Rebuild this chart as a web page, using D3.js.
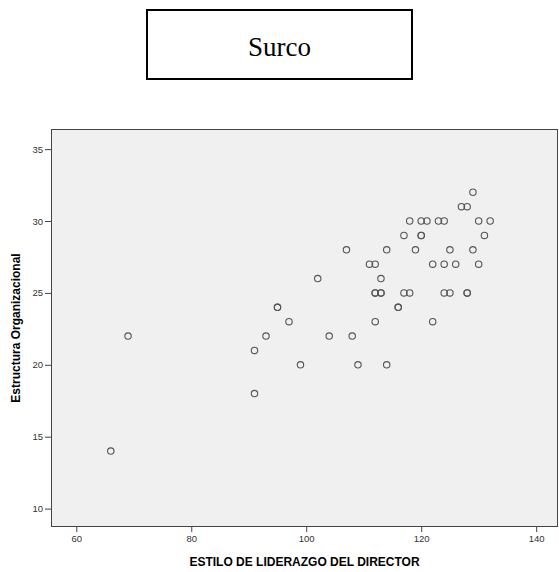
<!DOCTYPE html>
<html>
<head>
<meta charset="utf-8">
<script src="https://cdn.jsdelivr.net/npm/d3@7"></script>
<style>
  html, body { margin: 0; padding: 0; background: #ffffff; }
  svg { display: block; }
</style>
</head>
<body>
<svg id="chart" width="559" height="572"></svg>
<script>
// ---- data ----
const titleText = "Surco";
const xLabel = "ESTILO DE LIDERAZGO DEL DIRECTOR";
const yLabel = "Estructura Organizacional";
const xTicks = [60, 80, 100, 120, 140];
const yTicks = [10, 15, 20, 25, 30, 35];
const liderazgo = [66, 69, 91, 91, 93, 95, 95, 97, 99, 102, 104, 107, 108, 109, 111, 112, 112, 112, 112, 113, 113, 113, 114, 114, 116, 116, 117, 117, 118, 118, 119, 120, 120, 120, 121, 122, 122, 123, 124, 124, 124, 125, 125, 126, 127, 128, 128, 128, 129, 129, 130, 130, 131, 132];
const estructura = [14, 22, 21, 18, 22, 24, 24, 23, 20, 26, 22, 28, 22, 20, 27, 27, 25, 25, 23, 26, 25, 25, 28, 20, 24, 24, 29, 25, 30, 25, 28, 30, 29, 29, 30, 27, 23, 30, 30, 27, 25, 28, 25, 27, 31, 31, 25, 25, 32, 28, 30, 27, 29, 30];

// ---- layout ----
const plot = { left: 51, top: 129, right: 558, bottom: 527 };
const svg = d3.select("#chart");

// title box
svg.append("rect")
  .attr("x", 147).attr("y", 10).attr("width", 265).attr("height", 69)
  .attr("fill", "#ffffff").attr("stroke", "#000").attr("stroke-width", 2);
svg.append("text")
  .attr("x", 279.5).attr("y", 56)
  .attr("text-anchor", "middle")
  .attr("font-family", "'Liberation Serif', 'Times New Roman', serif")
  .attr("font-size", 27)
  .attr("fill", "#000")
  .text(titleText);

// scales
const x = d3.scaleLinear().domain([55.6, 143.8]).range([plot.left, plot.right]);
const y = d3.scaleLinear().domain([8.72, 36.4]).range([plot.bottom, plot.top]);

// plot background
svg.append("rect")
  .attr("x", plot.left).attr("y", plot.top)
  .attr("width", plot.right - plot.left).attr("height", plot.bottom - plot.top)
  .attr("fill", "#f0f0f0").attr("stroke", "none");

// axes
const xAxis = svg.append("g")
  .attr("transform", `translate(0,${plot.bottom})`)
  .call(d3.axisBottom(x).tickValues(xTicks).tickSize(5).tickSizeOuter(0).tickPadding(3));
const yAxis = svg.append("g")
  .attr("transform", `translate(${plot.left},0)`)
  .call(d3.axisLeft(y).tickValues(yTicks).tickSize(6).tickSizeOuter(0).tickPadding(2));

[xAxis, yAxis].forEach(g => {
  g.select(".domain").remove();
  g.selectAll(".tick line").attr("stroke", "#444").attr("stroke-width", 1);
  g.selectAll(".tick text")
    .attr("font-family", "'Liberation Sans', Arial, sans-serif")
    .attr("font-size", 9.5)
    .attr("fill", "#333");
});

// frame
svg.append("rect")
  .attr("x", plot.left + 0.5).attr("y", plot.top + 0.5)
  .attr("width", plot.right - plot.left - 1).attr("height", plot.bottom - plot.top - 1)
  .attr("fill", "none").attr("stroke", "#444").attr("stroke-width", 1);

// points
svg.append("g")
  .selectAll("circle")
  .data(liderazgo.map((d, i) => [d, estructura[i]]))
  .join("circle")
  .attr("cx", d => x(d[0]))
  .attr("cy", d => y(d[1]))
  .attr("r", 3.2)
  .attr("fill", "none")
  .attr("stroke", "#555")
  .attr("stroke-width", 1.1);

// axis titles
svg.append("text")
  .attr("x", (plot.left + plot.right) / 2).attr("y", 566)
  .attr("text-anchor", "middle")
  .attr("font-family", "'Liberation Sans', Arial, sans-serif")
  .attr("font-weight", "bold")
  .attr("font-size", 12)
  .attr("fill", "#000")
  .text(xLabel);
svg.append("text")
  .attr("transform", `translate(20,${(plot.top + plot.bottom) / 2}) rotate(-90)`)
  .attr("text-anchor", "middle")
  .attr("font-family", "'Liberation Sans', Arial, sans-serif")
  .attr("font-weight", "bold")
  .attr("font-size", 12)
  .attr("fill", "#000")
  .text(yLabel);
</script>
</body>
</html>
